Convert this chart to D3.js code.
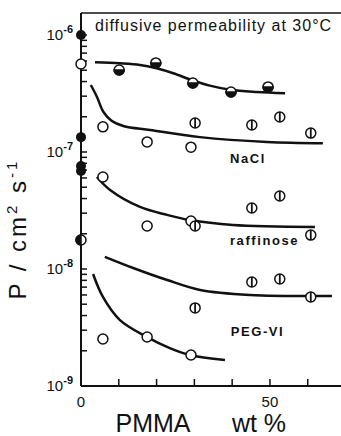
<!DOCTYPE html>
<html>
<head>
<meta charset="utf-8">
<script src="https://cdn.jsdelivr.net/npm/d3@7"></script>
<style>
  body { margin: 0; background: #fff; }
  text { font-family: "Liberation Sans", Arial, sans-serif; fill: #111; }
</style>
</head>
<body>
<div id="view"></div>
<script>
// PMMA wt% vs diffusive permeability P (cm^2 s^-1)
const curveTopX = [3.7, 10.3, 15.6, 20.0, 24.4, 29.3, 34.1, 39.6, 46.5, 54.0];
const curveTopP = [5.85e-7, 5.73e-7, 5.55e-7, 5.19e-7, 4.71e-7, 4.12e-7, 3.69e-7, 3.40e-7, 3.26e-7, 3.18e-7];

const curveNaclX = [2.6, 4.2, 5.9, 8.1, 11.2, 18.3, 31.5, 49.2, 64];
const curveNaclP = [3.74e-7, 2.97e-7, 2.21e-7, 1.85e-7, 1.67e-7, 1.54e-7, 1.34e-7, 1.22e-7, 1.19e-7];

const curveRaffX = [4.2, 7.7, 15.6, 22.8, 28.8, 40.2, 61.9];
const curveRaffP = [6.11e-8, 4.73e-8, 3.39e-8, 2.90e-8, 2.62e-8, 2.38e-8, 2.29e-8];

const curvePegUpX = [6.3, 13.8, 22.8, 31.5, 44.7, 66.4];
const curvePegUpP = [1.27e-8, 1.02e-8, 8.05e-9, 6.62e-9, 6.0e-9, 5.87e-9];

const curvePegLoX = [3.2, 5.8, 10.3, 17.5, 23.5, 28.8, 38.1];
const curvePegLoP = [9.06e-9, 5.77e-9, 3.66e-9, 2.62e-9, 2.11e-9, 1.84e-9, 1.67e-9];

// half-filled points (top series)
const halfX = [10.1, 19.8, 29.6, 39.7, 49.5];
const halfP = [5.02e-7, 5.77e-7, 3.89e-7, 3.26e-7, 3.60e-7];

// open circles
const openX = [5.8, 17.5, 29.1];
const openNacl = [1.64e-7, 1.22e-7, 1.10e-7];
const openRaff = [6.11e-8, 2.33e-8, 2.57e-8];
const openPeg = [2.52e-9, 2.62e-9, 1.84e-9];

// barred circles
const barX = [30.2, 45.2, 52.6, 60.8];
const barNacl = [1.77e-7, 1.70e-7, 1.99e-7, 1.45e-7];
const barRaff = [2.33e-8, 3.32e-8, 4.21e-8, 1.95e-8];
const barPeg = [4.65e-9, 7.74e-9, 8.22e-9, 5.77e-9];

// points on the axis (0 wt%)
const axisFilledP = [1e-6, 1.34e-7, 7.59e-8, 6.89e-8];
const axisOpenP = [5.65e-7];
const axisHalfP = [1.77e-8];

const xTicks = [10, 20, 30, 40, 50, 60];
const xTickLabels = [0, 50];
const decades = [-9, -8, -7, -6];
const curveLabels = [
  {text: 'NaCl', x: 39.4, p: 8.05e-8},
  {text: 'raffinose', x: 39.4, p: 1.6e-8},
  {text: 'PEG-VI', x: 39.6, p: 2.67e-9}
];

const w = 341, h = 436;
const margin = {top: 13, right: 0, bottom: 50, left: 81};
const width = w - margin.left - margin.right;
const height = h - margin.top - margin.bottom;

const svg = d3.select('#view').append('svg').attr('width', w).attr('height', h);
const g = svg.append('g').attr('transform', `translate(${margin.left}, ${margin.top})`);

const x = d3.scaleLinear().domain([0, 68.8]).range([0, width]);
const y = d3.scaleLog().domain([1e-9, Math.pow(10, -5.812)]).range([height, 0]);

// frame: left, bottom, top
g.append('line').attr('x1', 0).attr('x2', 0).attr('y1', 0).attr('y2', height)
  .attr('stroke', '#111').attr('stroke-width', 2);
g.append('line').attr('x1', 0).attr('x2', width).attr('y1', height).attr('y2', height)
  .attr('stroke', '#111').attr('stroke-width', 2);
g.append('line').attr('x1', 0).attr('x2', width).attr('y1', 0).attr('y2', 0)
  .attr('stroke', '#111').attr('stroke-width', 1.5);

// x ticks (inward)
g.selectAll('.xtick').data(xTicks).enter().append('line')
  .attr('x1', d => x(d)).attr('x2', d => x(d))
  .attr('y1', height).attr('y2', height - 7)
  .attr('stroke', '#111').attr('stroke-width', 1.5);

g.selectAll('.xlab').data(xTickLabels).enter().append('text')
  .attr('x', d => x(d)).attr('y', height + 21)
  .attr('text-anchor', 'middle').attr('font-size', 15)
  .text(d => d);

// y minor ticks (inward)
const minor = [];
for (const e of decades) {
  for (let m = 1; m < 10; m++) {
    const v = m * Math.pow(10, e);
    if (v <= y.domain()[1]) minor.push(v);
  }
}
g.selectAll('.ytick').data(minor).enter().append('line')
  .attr('x1', 0).attr('x2', 6)
  .attr('y1', d => y(d)).attr('y2', d => y(d))
  .attr('stroke', '#111').attr('stroke-width', 1.5);

// decade labels
const dl = g.selectAll('.ylab').data(decades).enter().append('text')
  .attr('x', -8).attr('y', d => y(Math.pow(10, d)) + 5)
  .attr('text-anchor', 'end').attr('font-size', 15);
dl.append('tspan').text('10');
dl.append('tspan').attr('dy', -7).attr('font-size', 11).attr('font-weight', 'bold').text(d => d);

// curves
const line = d3.line().x(d => x(d[0])).y(d => y(d[1])).curve(d3.curveCatmullRom);
const curves = [
  [curveTopX, curveTopP], [curveNaclX, curveNaclP], [curveRaffX, curveRaffP],
  [curvePegUpX, curvePegUpP], [curvePegLoX, curvePegLoP]
];
for (const [xs, ps] of curves) {
  g.append('path').datum(xs.map((v, i) => [v, ps[i]]))
    .attr('d', line).attr('fill', 'none')
    .attr('stroke', '#111').attr('stroke-width', 2.5);
}

const r = 5;
function openCircles(xs, ps) {
  g.selectAll(null).data(xs.map((v, i) => [v, ps[i]])).enter().append('circle')
    .attr('cx', d => x(d[0])).attr('cy', d => y(d[1])).attr('r', r)
    .attr('fill', '#fff').attr('stroke', '#111').attr('stroke-width', 1.5);
}
function barCircles(xs, ps) {
  const data = xs.map((v, i) => [v, ps[i]]);
  openCircles(xs, ps);
  g.selectAll(null).data(data).enter().append('line')
    .attr('x1', d => x(d[0])).attr('x2', d => x(d[0]))
    .attr('y1', d => y(d[1]) - r).attr('y2', d => y(d[1]) + r)
    .attr('stroke', '#111').attr('stroke-width', 1.8);
}
function halfCircles(xs, ps, side) {
  const data = xs.map((v, i) => [v, ps[i]]);
  openCircles(xs, ps);
  const arc = side === 'left'
    ? `M0,${-r}A${r},${r} 0 0 0 0,${r}Z`
    : `M${-r},0A${r},${r} 0 0 0 ${r},0Z`;
  g.selectAll(null).data(data).enter().append('path')
    .attr('transform', d => `translate(${x(d[0])},${y(d[1])})`)
    .attr('d', arc).attr('fill', '#111').attr('stroke', '#111').attr('stroke-width', 1.5);
}

halfCircles(halfX, halfP, 'bottom');
openCircles(openX, openNacl);
openCircles(openX, openRaff);
openCircles(openX, openPeg);
barCircles(barX, barNacl);
barCircles(barX, barRaff);
barCircles(barX, barPeg);

openCircles(axisOpenP.map(() => 0), axisOpenP);
halfCircles(axisHalfP.map(() => 0), axisHalfP, 'left');
g.selectAll(null).data(axisFilledP).enter().append('circle')
  .attr('cx', x(0)).attr('cy', d => y(d)).attr('r', r)
  .attr('fill', '#111');

// curve labels
g.selectAll('.clab').data(curveLabels).enter().append('text')
  .attr('x', d => x(d.x)).attr('y', d => y(d.p))
  .attr('font-size', 13).attr('font-weight', 'bold').attr('letter-spacing', 1.6)
  .text(d => d.text);

// title
g.append('text').attr('x', 14).attr('y', 18).attr('font-size', 16).attr('letter-spacing', 1)
  .text('diffusive permeability at 30°C');

// axis titles
svg.append('text').attr('x', 153).attr('y', 432).attr('text-anchor', 'middle')
  .attr('font-size', 25).text('PMMA');
svg.append('text').attr('x', 259).attr('y', 432).attr('text-anchor', 'middle')
  .attr('font-size', 25).text('wt %');

const yl = svg.append('text')
  .attr('transform', 'translate(26, 229) rotate(-90)')
  .attr('text-anchor', 'middle').attr('font-size', 24).attr('letter-spacing', 3);
yl.append('tspan').text('P  /  cm');
yl.append('tspan').attr('dy', -9).attr('font-size', 15).text('2');
yl.append('tspan').attr('dy', 9).text(' s');
yl.append('tspan').attr('dy', -9).attr('font-size', 15).text('-1');
</script>
</body>
</html>
